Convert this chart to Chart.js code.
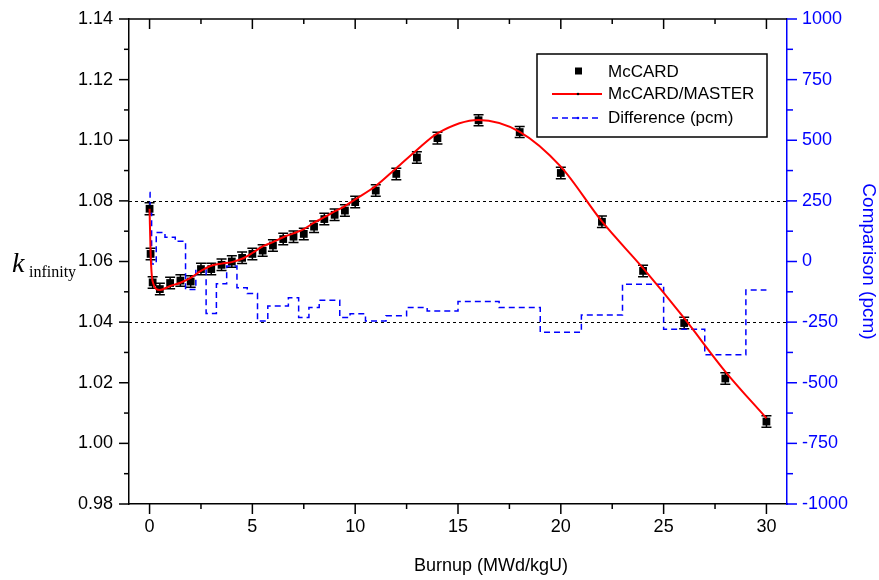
<!DOCTYPE html>
<html>
<head>
<meta charset="utf-8">
<script src="https://cdn.jsdelivr.net/npm/chart.js@4.4.0/dist/chart.umd.min.js"></script>
<style>
  html, body { margin: 0; padding: 0; background: #fff; }
  #wrap { width: 879px; height: 580px; }
</style>
</head>
<body>
<div id="wrap"><canvas id="chart" width="879" height="580"></canvas></div>
<script>
// burnup steps (MWd/kgU)
const burnup = [0, 0.05, 0.15, 0.5, 1, 1.5, 2, 2.5, 3, 3.5, 4, 4.5, 5, 5.5, 6, 6.5, 7, 7.5, 8, 8.5, 9, 9.5, 10, 11, 12, 13, 14, 16, 18, 20, 22, 24, 26, 28, 30];
// McCARD k-inf with 1 sigma
const kMcCARD = [1.0774, 1.0625, 1.0531, 1.0509, 1.0529, 1.0537, 1.0534, 1.0575, 1.0575, 1.0589, 1.0600, 1.0612, 1.0625, 1.0636, 1.0653, 1.0674, 1.0682, 1.0691, 1.0715, 1.0740, 1.0754, 1.0768, 1.0796, 1.0834, 1.0889, 1.0943, 1.1007, 1.1066, 1.1027, 1.0892, 1.0731, 1.0569, 1.0397, 1.0214, 1.0072];
const kErr = [0.0020, 0.0019, 0.0019, 0.0019, 0.0019, 0.0019, 0.0019, 0.0019, 0.0019, 0.0019, 0.0019, 0.0019, 0.0019, 0.0019, 0.0019, 0.0019, 0.0019, 0.0019, 0.0019, 0.0019, 0.0019, 0.0019, 0.0019, 0.0019, 0.0019, 0.0019, 0.0019, 0.0018, 0.0018, 0.0019, 0.0019, 0.0019, 0.0019, 0.0019, 0.0019];
// McCARD/MASTER
const kMaster = [1.0774, 1.0630, 1.0534, 1.0506, 1.0519, 1.0530, 1.0546, 1.0569, 1.0586, 1.0593, 1.0598, 1.0609, 1.0628, 1.0650, 1.0664, 1.0680, 1.0693, 1.0707, 1.0728, 1.0746, 1.0765, 1.0783, 1.0805, 1.0849, 1.0908, 1.0968, 1.1023, 1.1067, 1.1028, 1.0913, 1.0732, 1.0578, 1.0413, 1.0237, 1.0083];
// difference (pcm)
const diffPcm = [285, 200, -10, 120, 100, 83, -115, -25, -214, -92, -19, -108, -132, -245, -183, -183, -149, -231, -190, -160, -160, -231, -215, -245, -224, -190, -204, -165, -190, -292, -221, -94, -279, -385, -118];

const xTicks = [0, 5, 10, 15, 20, 25, 30];
const xMinor = [2.5, 7.5, 12.5, 17.5, 22.5, 27.5];
const yTicks = [0.98, 1.00, 1.02, 1.04, 1.06, 1.08, 1.10, 1.12, 1.14];
const yMinor = [0.99, 1.01, 1.03, 1.05, 1.07, 1.09, 1.11, 1.13];
const y1Ticks = [-1000, -750, -500, -250, 0, 250, 500, 750, 1000];
const y1Minor = [-875, -625, -375, -125, 125, 375, 625, 875];
const refLines = [1.08, 1.04];

const SANS = '"Liberation Sans", Arial, sans-serif';
const SERIF = '"Liberation Serif", "Times New Roman", serif';
const BLUE = '#0000ff';

Chart.defaults.font.family = SANS;
Chart.defaults.color = '#000';

function ticksFrom(arr) {
  return function(scale) { scale.ticks = arr.map(v => ({ value: v })); };
}

function marks(ctx, a, scale, vals, len, side) {
  vals.forEach(v => {
    const p = scale.getPixelForValue(v);
    ctx.beginPath();
    if (side == 'left') { ctx.moveTo(a.left, p); ctx.lineTo(a.left - len, p); }
    if (side == 'right') { ctx.moveTo(a.right, p); ctx.lineTo(a.right + len, p); }
    if (side == 'bottom') { ctx.moveTo(p, a.bottom); ctx.lineTo(p, a.bottom + len); }
    if (side == 'top') { ctx.moveTo(p, a.top); ctx.lineTo(p, a.top + len); }
    ctx.stroke();
  });
}

const frame = {
  id: 'frame',
  beforeDatasetsDraw(chart) {
    const ctx = chart.ctx, a = chart.chartArea;
    const x = chart.scales.x, y = chart.scales.y;
    ctx.save();
    // reference lines
    ctx.strokeStyle = '#000';
    ctx.lineWidth = 1;
    ctx.setLineDash([3, 3]);
    refLines.forEach(v => {
      const p = Math.round(y.getPixelForValue(v)) + 0.5;
      ctx.beginPath(); ctx.moveTo(a.left, p); ctx.lineTo(a.right, p); ctx.stroke();
    });
    ctx.setLineDash([]);
    // error bars
    ctx.lineWidth = 1.5;
    burnup.forEach((b, i) => {
      const px = x.getPixelForValue(b);
      const hi = y.getPixelForValue(kMcCARD[i] + kErr[i]);
      const lo = y.getPixelForValue(kMcCARD[i] - kErr[i]);
      ctx.beginPath();
      ctx.moveTo(px, hi); ctx.lineTo(px, lo);
      ctx.moveTo(px - 5, hi); ctx.lineTo(px + 5, hi);
      ctx.moveTo(px - 5, lo); ctx.lineTo(px + 5, lo);
      ctx.stroke();
    });
    ctx.restore();
  },
  afterDraw(chart) {
    const ctx = chart.ctx, a = chart.chartArea;
    const x = chart.scales.x, y = chart.scales.y, y1 = chart.scales.y1;
    ctx.save();
    // top axis line
    ctx.strokeStyle = '#000';
    ctx.lineWidth = 1.5;
    ctx.beginPath(); ctx.moveTo(a.left, a.top); ctx.lineTo(a.right, a.top); ctx.stroke();
    // ticks
    marks(ctx, a, y, yTicks, 10, 'left');
    marks(ctx, a, y, yMinor, 5, 'left');
    marks(ctx, a, x, xTicks, 10, 'bottom');
    marks(ctx, a, x, xMinor, 5, 'bottom');
    marks(ctx, a, x, xTicks, 10, 'top');
    marks(ctx, a, x, xMinor, 5, 'top');
    ctx.strokeStyle = BLUE;
    marks(ctx, a, y1, y1Ticks, 10, 'right');
    marks(ctx, a, y1, y1Minor, 6, 'right');

    // axis titles
    ctx.fillStyle = '#000';
    ctx.textBaseline = 'alphabetic';
    ctx.textAlign = 'left';
    ctx.font = 'italic 28px ' + SERIF;
    ctx.fillText('k', 12, 272);
    ctx.font = '16px ' + SERIF;
    ctx.fillText('infinity', 29, 277);

    ctx.font = '18px ' + SANS;
    ctx.textAlign = 'center';
    ctx.textBaseline = 'middle';
    ctx.fillText('Burnup (MWd/kgU)', (a.left + a.right) / 2 + 33, 566);

    ctx.save();
    ctx.fillStyle = BLUE;
    ctx.translate(868, (a.top + a.bottom) / 2);
    ctx.rotate(Math.PI / 2);
    ctx.font = '19px ' + SANS;
    ctx.fillText('Comparison (pcm)', 0, 0);
    ctx.restore();

    // legend
    const lx = 537, ly = 54, lw = 230, lh = 83;
    ctx.fillStyle = '#fff';
    ctx.fillRect(lx, ly, lw, lh);
    ctx.strokeStyle = '#000';
    ctx.lineWidth = 1.5;
    ctx.strokeRect(lx, ly, lw, lh);
    const ds = chart.data.datasets;
    const rows = [71, 94, 118];
    ctx.font = '17px ' + SANS;
    ctx.textAlign = 'left';
    ctx.textBaseline = 'middle';
    // McCARD
    ctx.fillStyle = '#000';
    ctx.fillRect(575, rows[0] - 3.5, 7, 7);
    ctx.fillText(ds[1].label, 608, rows[0] + 1);
    // McCARD/MASTER
    ctx.strokeStyle = ds[0].borderColor;
    ctx.lineWidth = 2;
    ctx.beginPath(); ctx.moveTo(552, rows[1]); ctx.lineTo(602, rows[1]); ctx.stroke();
    ctx.fillStyle = '#000';
    ctx.beginPath(); ctx.arc(578, rows[1], 1.3, 0, Math.PI * 2); ctx.fill();
    ctx.fillText(ds[0].label, 608, rows[1]);
    // Difference
    ctx.strokeStyle = ds[2].borderColor;
    ctx.lineWidth = 1.5;
    ctx.setLineDash([6, 4]);
    ctx.beginPath(); ctx.moveTo(552, rows[2]); ctx.lineTo(602, rows[2]); ctx.stroke();
    ctx.setLineDash([]);
    ctx.fillStyle = BLUE;
    ctx.beginPath(); ctx.arc(578, rows[2], 1.3, 0, Math.PI * 2); ctx.fill();
    ctx.fillStyle = '#000';
    ctx.fillText(ds[2].label, 608, rows[2]);
    ctx.restore();
  }
};

function fitV(w) {
  return function(s) { s.width = w; s.paddingTop = 0; s.paddingBottom = 0; };
}

new Chart(document.getElementById('chart'), {
  type: 'line',
  data: {
    datasets: [{
      label: 'McCARD/MASTER',
      data: burnup.map((b, i) => ({ x: b, y: kMaster[i] })),
      borderColor: '#ff0000',
      borderWidth: 2,
      pointRadius: 0,
      cubicInterpolationMode: 'monotone',
      yAxisID: 'y'
    }, {
      label: 'McCARD',
      data: burnup.map((b, i) => ({ x: b, y: kMcCARD[i] })),
      showLine: false,
      pointStyle: 'rect',
      pointRadius: 5.5,
      pointBackgroundColor: '#000',
      pointBorderColor: '#000',
      pointBorderWidth: 0,
      yAxisID: 'y'
    }, {
      label: 'Difference (pcm)',
      data: burnup.map((b, i) => ({ x: b, y: diffPcm[i] })),
      borderColor: BLUE,
      borderWidth: 1.5,
      borderDash: [6, 4],
      stepped: 'middle',
      pointRadius: 0,
      yAxisID: 'y1'
    }]
  },
  options: {
    responsive: false,
    animation: false,
    layout: { padding: { top: 19, left: 0, right: 0, bottom: 0 } },
    plugins: { legend: { display: false }, tooltip: { enabled: false } },
    scales: {
      x: {
        type: 'linear',
        min: -1, max: 31,
        afterBuildTicks: ticksFrom(xTicks),
        afterFit(s) { s.height = 76; s.paddingLeft = 0; s.paddingRight = 0; },
        grid: { display: false, drawTicks: false },
        border: { display: true, color: '#000', width: 1.5 },
        ticks: { padding: 12, font: { size: 18 }, color: '#000' }
      },
      y: {
        position: 'left',
        min: 0.98, max: 1.14,
        afterBuildTicks: ticksFrom(yTicks),
        afterFit: fitV(129),
        grid: { display: false, drawTicks: false },
        border: { display: true, color: '#000', width: 1.5 },
        ticks: { padding: 16, font: { size: 18 }, color: '#000', callback: v => v.toFixed(2) }
      },
      y1: {
        position: 'right',
        min: -1000, max: 1000,
        afterBuildTicks: ticksFrom(y1Ticks),
        afterFit: fitV(92),
        grid: { display: false, drawTicks: false },
        border: { display: true, color: BLUE, width: 1.5 },
        ticks: { padding: 15, font: { size: 18 }, color: BLUE, callback: v => String(v) }
      }
    }
  },
  plugins: [frame]
});
</script>
</body>
</html>
